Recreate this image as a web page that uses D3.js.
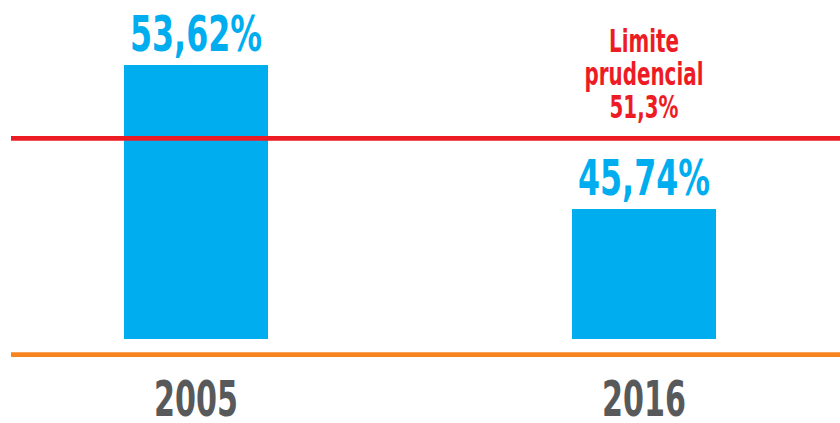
<!DOCTYPE html>
<html>
<head>
<meta charset="utf-8">
<script src="https://cdn.jsdelivr.net/npm/d3@7"></script>
<style>
  html, body { margin: 0; padding: 0; background: #fff; }
  svg { display: block; }
  text { font-family: "DejaVu Sans", sans-serif; font-weight: bold; }
</style>
</head>
<body>
<svg id="chart" width="840" height="423"></svg>
<script>
// ---- data ----
const years = ["2005", "2016"];
const values = [53.62, 45.74];
const valueLabels = ["53,62%", "45,74%"];
const limitValue = 51.3;
const limitLabel = ["Limite", "prudencial", "51,3%"];

// ---- layout ----
const W = 840, H = 423;
const plotBottom = 339;
const colors = { bar: "#00AEEF", limit: "#ED1C24", base: "#F6851F", year: "#58595B" };

const svg = d3.select("#chart");

const x = d3.scaleBand()
  .domain(years)
  .range([0, W])
  .paddingInner(0.6786)
  .paddingOuter(0.2768);

// The original graphic is not drawn to a uniform scale; a piecewise
// (polylinear) scale reproduces its proportions.
const y = d3.scaleLinear()
  .domain([38.63, values[1], limitValue, values[0]])
  .range([plotBottom, 209, 138.3, 65]);

const data = years.map((yr, i) => ({ year: yr, value: values[i], label: valueLabels[i] }));

// bars
svg.selectAll("rect.bar")
  .data(data)
  .join("rect")
  .attr("class", "bar")
  .attr("x", d => x(d.year))
  .attr("width", x.bandwidth())
  .attr("y", d => y(d.value))
  .attr("height", d => plotBottom - y(d.value))
  .attr("fill", colors.bar);

// prudential limit line
svg.append("line")
  .attr("x1", 11).attr("x2", W)
  .attr("y1", y(limitValue)).attr("y2", y(limitValue))
  .attr("stroke", colors.limit)
  .attr("stroke-width", 4.8);

// baseline (axis)
const axisY = plotBottom + 15.7;
const xAxis = d3.axisBottom(x).tickSize(0).tickPadding(0);
const axisG = svg.append("g").attr("transform", `translate(0,${axisY})`).call(xAxis);
axisG.select(".domain").remove();
axisG.append("line")
  .attr("x1", 11).attr("x2", W)
  .attr("stroke", colors.base)
  .attr("stroke-width", 4.8);
axisG.selectAll(".tick text").remove();
axisG.selectAll(".tick")
  .append("g")
  .attr("transform", `translate(0,${416 - axisY}) scale(0.603,1)`)
  .append("text")
  .attr("text-anchor", "middle")
  .attr("fill", colors.year)
  .attr("font-size", 50)
  .text(d => d);

// value labels
svg.selectAll("g.vlabel")
  .data(data)
  .join("g")
  .attr("class", "vlabel")
  .attr("transform", d => `translate(${x(d.year) + x.bandwidth() / 2},${y(d.value) - 14.5}) scale(0.628,1)`)
  .append("text")
  .attr("text-anchor", "middle")
  .attr("fill", colors.bar)
  .attr("font-size", 50.5)
  .text(d => d.label);

// limit label
const lx = x(years[1]) + x.bandwidth() / 2;
const lg = svg.append("g")
  .attr("transform", `translate(${lx},${y(limitValue) - 86}) scale(0.612,1)`);
lg.selectAll("text")
  .data(limitLabel)
  .join("text")
  .attr("text-anchor", "middle")
  .attr("y", (d, i) => i * 33)
  .attr("fill", colors.limit)
  .attr("font-size", 32.5)
  .text(d => d);
</script>
</body>
</html>
